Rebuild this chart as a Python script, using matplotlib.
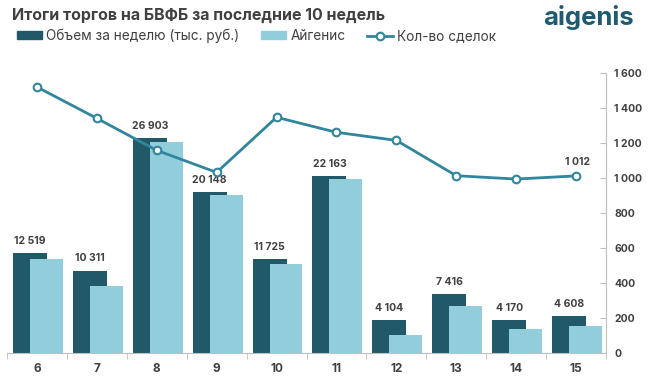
import matplotlib
matplotlib.use("Agg")
import matplotlib.pyplot as plt
from matplotlib.patches import Patch
from matplotlib.lines import Line2D
from matplotlib.ticker import FuncFormatter

plt.rcParams['font.family'] = ['Inter', 'DejaVu Sans']

weeks = ['6', '7', '8', '9', '10', '11', '12', '13', '14', '15']
volume = [12519, 10311, 26903, 20148, 11725, 22163, 4104, 7416, 4170, 4608]
aigenis = [11750, 8375, 26375, 19750, 11125, 21750, 2250, 5875, 3000, 3375]
deals = [1520, 1341, 1158, 1032, 1347, 1261, 1215, 1013, 994, 1012]

DARK = '#215968'
LIGHT = '#92CDDC'
LINE = '#31859C'
TXT = '#404040'
GRID = '#BFBFBF'

fig = plt.figure(figsize=(6.55, 3.85), dpi=100)
ax = fig.add_axes([7/655, 32/385, 599/655, 280/385])
ax2 = ax.twinx()

x = list(range(len(weeks)))
ax.bar([i - 0.117 for i in x], volume, width=0.567, color=DARK, zorder=2)
ax.bar([i + 0.158 for i in x], aigenis, width=0.55, color=LIGHT, zorder=3)
for i, v in zip(x, volume):
    ax.annotate(f"{v:,}".replace(",", " "), (i - 0.117, v), xytext=(0, 6.5),
                textcoords='offset points', ha='center', va='baseline',
                fontsize=7.5, fontweight='bold', color=TXT)

ax.set_xlim(-0.5, 9.5)
ax.set_ylim(0, 35000)
ax.set_yticks([])
for s in ['top', 'left', 'right']:
    ax.spines[s].set_visible(False)
ax.spines['bottom'].set_color(GRID)
ax.set_xticks(x)
ax.set_xticklabels(weeks, fontsize=8.5, fontweight='bold', color=TXT)
ax.tick_params(axis='x', length=0, pad=7)
ax.set_xticks([i - 0.5 for i in range(11)], minor=True)
ax.tick_params(axis='x', which='minor', length=4, color=GRID, direction='out')

ax2.plot(x, deals, color=LINE, lw=2, marker='o', ms=5.5, mfc='white',
         mec=LINE, mew=1.5, zorder=5)
ax2.annotate("1 012", (x[-1], deals[-1]), xytext=(1, 7.5), textcoords='offset points',
             ha='center', va='baseline', fontsize=7.5, fontweight='bold', color=TXT)
ax2.set_ylim(0, 1600)
ax2.set_yticks(range(0, 1601, 200))
ax2.yaxis.set_major_formatter(FuncFormatter(lambda v, p: f"{int(v):,}".replace(",", " ")))
ax2.tick_params(axis='y', length=4, direction='in', color=GRID, pad=6,
                labelsize=7.5, labelcolor=TXT)
for lab in ax2.get_yticklabels():
    lab.set_fontweight('bold')
for s in ['top', 'left', 'bottom']:
    ax2.spines[s].set_visible(False)
ax2.spines['right'].set_color(GRID)

fig.text(12/655, 1 - 15/385, "Итоги торгов на БВФБ за последние 10 недель",
         fontsize=11.5, fontweight='bold', color=TXT, va='center', ha='left')
fig.text(634/655, 1 - 18/385, "aigenis", fontsize=18.5, fontweight='bold',
         color='#1F5B6E', va='center', ha='right')

handles = [Patch(color=DARK), Patch(color=LIGHT),
           Line2D([], [], color=LINE, lw=2, marker='o', ms=5.5, mfc='white', mec=LINE, mew=1.5)]
labels = ["Объем за неделю (тыс. руб.)", "Айгенис", "Кол-во сделок"]
leg = fig.legend(handles, labels, loc='center left', bbox_to_anchor=(17/655, 1 - 36/385),
                 ncol=3, frameon=False, fontsize=9.8, handlelength=1.85, handleheight=0.55,
                 handletextpad=0.3, columnspacing=1.6, borderaxespad=0, borderpad=0)
for t in leg.get_texts():
    t.set_color(TXT)

fig.savefig("out.png", dpi=100)
